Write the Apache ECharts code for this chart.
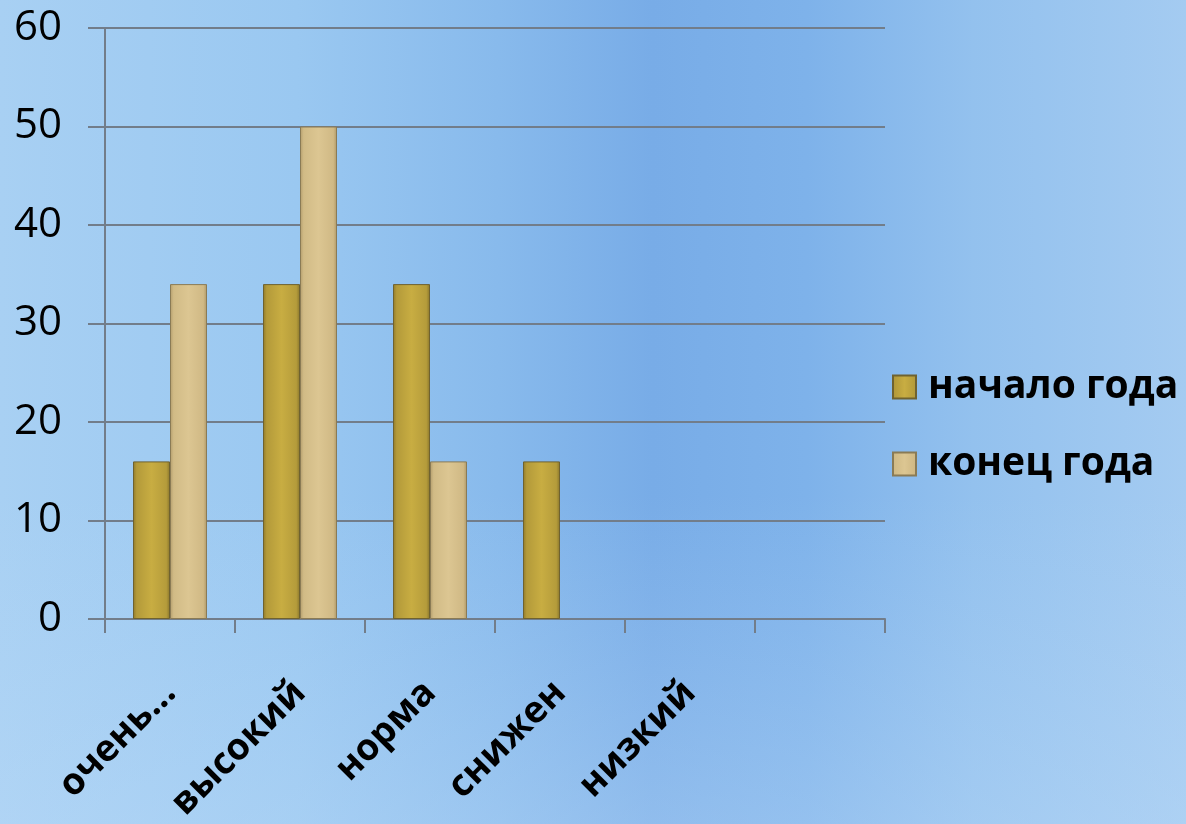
<!DOCTYPE html>
<html>
<head>
<meta charset="utf-8">
<script src="https://cdn.jsdelivr.net/npm/echarts@6/dist/echarts.min.js"></script>
<style>
html,body{margin:0;padding:0;width:1186px;height:824px;overflow:hidden;}
body{background:
 linear-gradient(180deg, rgba(255,255,255,0) 0%, rgba(255,255,255,0) 60%, rgba(190,220,248,0.35) 100%),
 linear-gradient(90deg, #a8d0f3 0%, #9ac8f1 25%, #88baec 42%, #78ace7 55%, #7eb2ea 68%, #93c1ee 82%, #a4cbf1 100%);}
#chart{width:1186px;height:824px;}
</style>
</head>
<body>
<div id="chart"></div>
<script>
var categories = ['очень...', 'высокий', 'норма', 'снижен', 'низкий', ''];
var seriesNames = ['начало года', 'конец года'];
var startValues = [16, 34, 34, 16, null, null];
var endValues = [34, 50, 16, null, null, null];
var yTicks = [0, 10, 20, 30, 40, 50, 60];

var chart = echarts.init(document.getElementById('chart'), null, {renderer: 'canvas'});
function grad(stops){
  return new echarts.graphic.LinearGradient(0, 0, 1, 0, stops.map(function(s){return {offset:s[0], color:s[1]};}));
}
var gold = grad([[0,'#8f7a2c'],[0.1,'#b39a3a'],[0.5,'#c8ad42'],[0.9,'#b59c3b'],[1,'#8a762b']]);
var tan = grad([[0,'#b39d6c'],[0.1,'#d1bb86'],[0.5,'#dcc692'],[0.9,'#d0b985'],[1,'#ae9868']]);
var axisColor = '#727d8a';
chart.setOption({
  backgroundColor: 'transparent',
  animation: false,
  grid: {left: 105, top: 28, right: 301, bottom: 205, containLabel: false, outerBoundsMode: 'none'},
  legend: {
    orient: 'vertical', left: 887, top: 360,
    itemWidth: 23, itemHeight: 23, itemGap: 33,
    icon: 'rect',
    textStyle: {fontFamily: 'Open Sans', fontWeight: 'bold', fontSize: 39, color: '#000', lineHeight: 44, padding: [0, 0, 0, 7]},
    data: seriesNames
  },
  xAxis: {
    type: 'category', data: categories,
    axisLine: {lineStyle: {color: axisColor, width: 2}},
    axisTick: {show: true, length: 14, lineStyle: {color: axisColor, width: 2}},
    axisLabel: {rotate: 45, interval: 0, margin: 68, fontFamily: 'Open Sans', fontWeight: 'bold', fontSize: 37, color: '#000'}
  },
  yAxis: {
    type: 'value', min: yTicks[0], max: yTicks[yTicks.length-1], interval: 10,
    axisLine: {show: true, lineStyle: {color: axisColor, width: 2}},
    axisTick: {show: true, length: 17, lineStyle: {color: axisColor, width: 2}},
    splitLine: {lineStyle: {color: axisColor, width: 2}},
    axisLabel: {margin: 43, fontFamily: 'Open Sans', fontSize: 42, color: '#000'}
  },
  series: [
    {name: seriesNames[0], type: 'bar', data: startValues, barWidth: 37, barGap: '0%',
     itemStyle: {color: gold, borderColor: '#6f6230', borderWidth: 1}},
    {name: seriesNames[1], type: 'bar', data: endValues, barWidth: 37,
     itemStyle: {color: tan, borderColor: '#8a7b55', borderWidth: 1}}
  ]
});
</script>
</body>
</html>
